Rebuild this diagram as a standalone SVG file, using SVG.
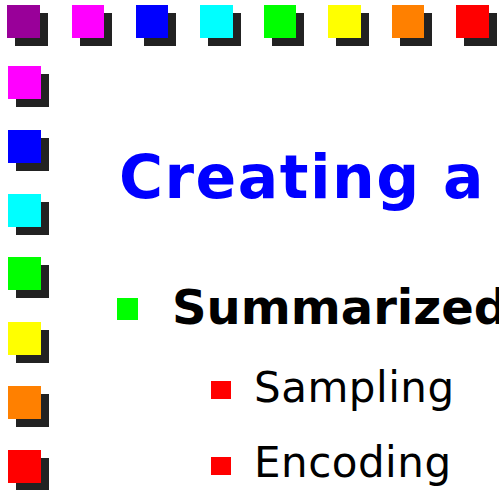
<svg xmlns="http://www.w3.org/2000/svg" width="499" height="490" viewBox="0 0 499 490">
  <style>
    .sh { fill: #222222; }
    .title { font-family: "DejaVu Sans", Verdana, sans-serif; font-weight: bold; font-size: 60px; letter-spacing: 1.5px; fill: #0000ff; }
    .l1 { font-family: "DejaVu Sans", Verdana, sans-serif; font-weight: bold; font-size: 48px; fill: #000000; }
    .l2 { font-family: "DejaVu Sans", Verdana, sans-serif; font-size: 42px; letter-spacing: 0.5px; fill: #000000; }
  </style>
  <rect width="499" height="490" fill="#ffffff"/>

  <!-- top border of colour tiles -->
  <g id="top-border">
    <g id="t1"><rect class="sh" x="15" y="13" width="33" height="33"/><rect x="7" y="5" width="33" height="33" fill="#990099"/></g>
    <g id="t2"><rect class="sh" x="80" y="13" width="32" height="33"/><rect x="72" y="5" width="32" height="33" fill="#ff00ff"/></g>
    <g id="t3"><rect class="sh" x="144" y="13" width="32" height="33"/><rect x="136" y="5" width="32" height="33" fill="#0000ff"/></g>
    <g id="t4"><rect class="sh" x="208" y="13" width="33" height="33"/><rect x="200" y="5" width="33" height="33" fill="#00ffff"/></g>
    <g id="t5"><rect class="sh" x="272" y="13" width="32" height="33"/><rect x="264" y="5" width="32" height="33" fill="#00ff00"/></g>
    <g id="t6"><rect class="sh" x="336" y="13" width="33" height="33"/><rect x="328" y="5" width="33" height="33" fill="#ffff00"/></g>
    <g id="t7"><rect class="sh" x="400" y="13" width="32" height="33"/><rect x="392" y="5" width="32" height="33" fill="#ff8000"/></g>
    <g id="t8"><rect class="sh" x="464" y="13" width="33" height="33"/><rect x="456" y="5" width="33" height="33" fill="#ff0000"/></g>
  </g>

  <!-- left border of colour tiles -->
  <g id="left-border">
    <g id="s1"><rect class="sh" x="16" y="74" width="33" height="33"/><rect x="8" y="66" width="33" height="33" fill="#ff00ff"/></g>
    <g id="s2"><rect class="sh" x="16" y="138" width="33" height="33"/><rect x="8" y="130" width="33" height="33" fill="#0000ff"/></g>
    <g id="s3"><rect class="sh" x="16" y="202" width="33" height="33"/><rect x="8" y="194" width="33" height="33" fill="#00ffff"/></g>
    <g id="s4"><rect class="sh" x="16" y="265" width="33" height="33"/><rect x="8" y="257" width="33" height="33" fill="#00ff00"/></g>
    <g id="s5"><rect class="sh" x="16" y="330" width="33" height="33"/><rect x="8" y="322" width="33" height="33" fill="#ffff00"/></g>
    <g id="s6"><rect class="sh" x="16" y="394" width="33" height="33"/><rect x="8" y="386" width="33" height="33" fill="#ff8000"/></g>
    <g id="s7"><rect class="sh" x="16" y="458" width="33" height="33"/><rect x="8" y="450" width="33" height="33" fill="#ff0000"/></g>
  </g>

  <!-- slide text -->
  <g id="title"><text class="title" x="119" y="198">Creating a</text></g>
  <g id="item-summarized">
    <rect x="117" y="298" width="21" height="22" fill="#00ff00"/>
    <text class="l1" x="172" y="324">Summarized</text>
  </g>
  <g id="item-sampling">
    <rect x="211" y="381" width="20" height="18" fill="#ff0000"/>
    <text class="l2" x="254" y="402">Sampling</text>
  </g>
  <g id="item-encoding">
    <rect x="211" y="457" width="20" height="18" fill="#ff0000"/>
    <text class="l2" x="254" y="477">Encoding</text>
  </g>
</svg>
